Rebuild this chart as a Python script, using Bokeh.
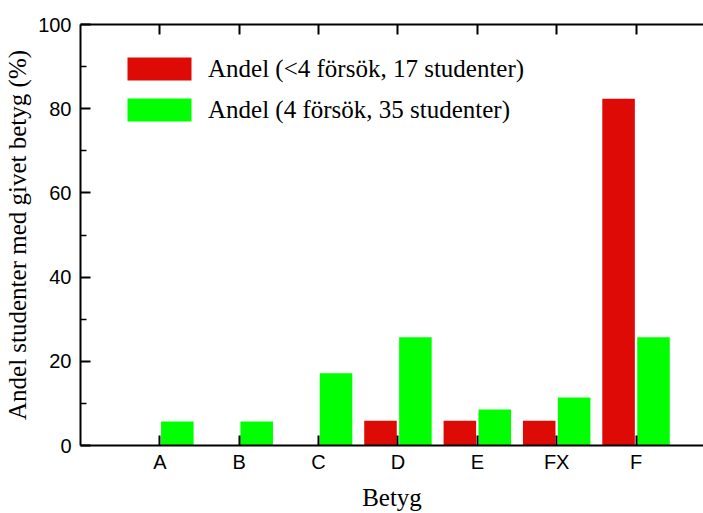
from bokeh.plotting import figure
from bokeh.models import (ColumnDataSource, Range1d, FixedTicker, LinearAxis,
                          Legend, LegendItem)
from bokeh.transform import dodge
from bokeh.embed import file_html
from bokeh.resources import INLINE

# ---- data ----
grades = ["A", "B", "C", "D", "E", "FX", "F"]
share_lt4 = [0.0, 0.0, 0.0, 5.88, 5.88, 5.88, 82.35]      # <4 försök, 17 studenter
share_4 = [5.71, 5.71, 17.14, 25.71, 8.57, 11.43, 25.71]   # 4 försök, 35 studenter
y_ticks = [0, 20, 40, 60, 80, 100]
y_minor = [10, 30, 50, 70, 90]
label_lt4 = "Andel (<4 försök, 17 studenter)"
label_4 = "Andel (4 försök, 35 studenter)"

xpos = [i + 1 for i in range(len(grades))]
src = ColumnDataSource(dict(x=xpos, lt4=share_lt4, f4=share_4))

RED = "#dd0a06"
GREEN = "#00ff00"
SERIF = "Liberation Serif"
SANS = "Liberation Sans"
INK = "black"

p = figure(width=703, height=513, output_backend="svg", toolbar_location=None,
           x_range=Range1d(0, 7.85), y_range=Range1d(0, 100),
           x_axis_location=None, y_axis_location=None,
           min_border_left=80, min_border_right=0, min_border_top=24,
           min_border_bottom=67)
p.outline_line_color = None
p.xgrid.visible = False
p.ygrid.visible = False
p.background_fill_color = "white"
p.border_fill_color = "white"

r1 = p.vbar(x=dodge("x", -0.22, range=p.x_range), top="lt4", width=0.41,
            source=src, fill_color=RED, line_color=None)
r2 = p.vbar(x=dodge("x", 0.22, range=p.x_range), top="f4", width=0.41,
            source=src, fill_color=GREEN, line_color=None)

overrides = {x: g for x, g in zip(xpos, grades)}
blank = {x: "" for x in xpos}


def style(ax):
    ax.axis_line_color = INK
    ax.major_tick_line_color = INK
    ax.minor_tick_line_color = INK
    ax.major_label_text_color = INK
    ax.axis_label_text_color = INK
    ax.axis_line_width = 2
    ax.major_tick_line_width = 2
    ax.major_tick_out = 0
    ax.minor_tick_out = 0


# bottom axis
xb = LinearAxis(ticker=FixedTicker(ticks=xpos, minor_ticks=[]),
                major_label_overrides=overrides)
style(xb)
xb.axis_label = "Betyg"
xb.axis_label_text_font = SERIF
xb.axis_label_text_font_style = "normal"
xb.axis_label_text_font_size = "25px"
xb.axis_label_standoff = 8
xb.major_label_text_font = SANS
xb.major_label_text_font_size = "20px"
xb.major_label_standoff = 5
xb.major_tick_in = 10
xb.minor_tick_in = 0
p.add_layout(xb, "below")

# top axis (ticks only)
xt = LinearAxis(ticker=FixedTicker(ticks=xpos, minor_ticks=[]),
                major_label_overrides=blank)
style(xt)
xt.major_label_standoff = 0
xt.major_tick_in = 10
xt.minor_tick_in = 0
p.add_layout(xt, "above")

# left axis
yl = LinearAxis(ticker=FixedTicker(ticks=y_ticks, minor_ticks=y_minor))
style(yl)
yl.axis_label = "Andel studenter med givet betyg (%)"
yl.axis_label_text_font = SERIF
yl.axis_label_text_font_style = "normal"
yl.axis_label_text_font_size = "25px"
yl.axis_label_standoff = 4
yl.major_label_text_font = SANS
yl.major_label_text_font_size = "20px"
yl.major_label_standoff = 9
yl.major_tick_in = 10
yl.minor_tick_in = 6
yl.minor_tick_line_width = 1.5
p.add_layout(yl, "left")

legend = Legend(items=[LegendItem(label=label_lt4, renderers=[r1]),
                       LegendItem(label=label_4, renderers=[r2])],
                location=(39, 321))
legend.glyph_width = 80
legend.glyph_height = 29
legend.label_standoff = 9
legend.label_text_font = SERIF
legend.label_text_font_size = "25px"
legend.label_text_color = INK
legend.spacing = 12
legend.padding = 0
legend.margin = 0
legend.border_line_color = None
legend.background_fill_alpha = 0
p.add_layout(legend, "center")

open("out.html", "w").write(file_html(p, INLINE))
